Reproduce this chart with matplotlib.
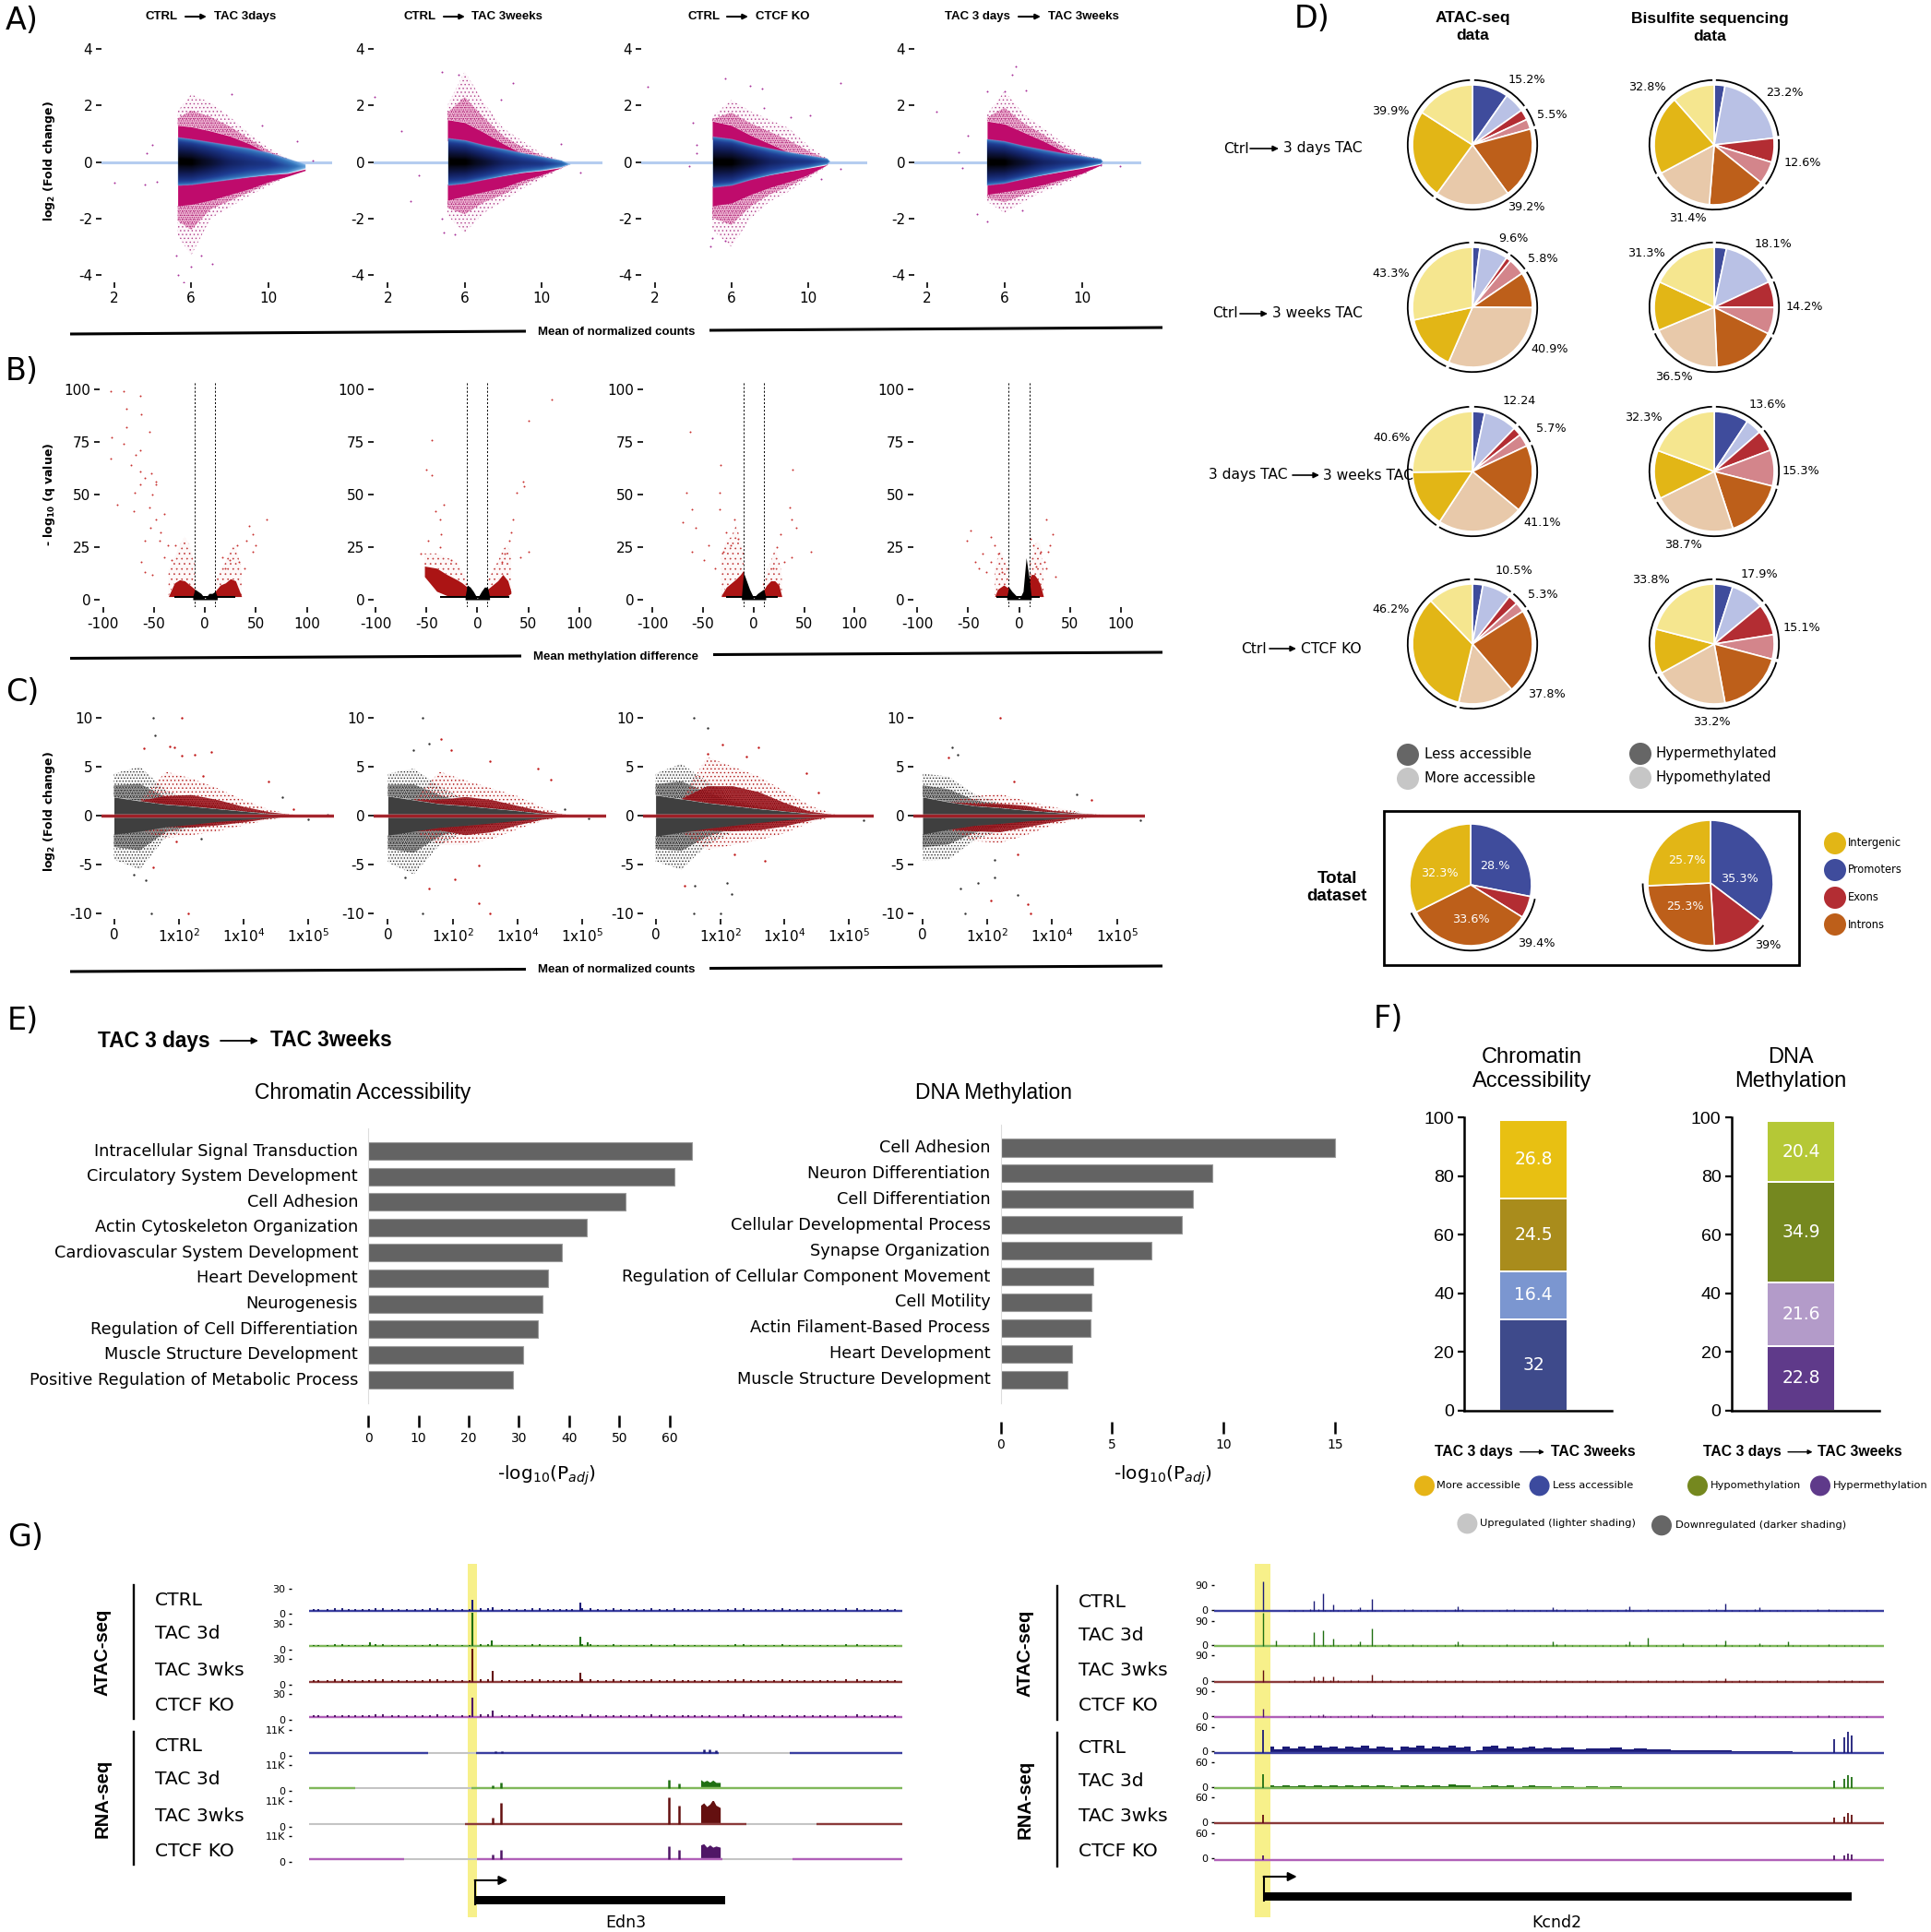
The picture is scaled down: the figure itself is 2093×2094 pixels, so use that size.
import numpy as np
import matplotlib
matplotlib.use('Agg')
import matplotlib.pyplot as plt
from matplotlib.colors import LinearSegmentedColormap
from matplotlib.patches import Arc, Circle, Rectangle
from matplotlib.transforms import ScaledTranslation

W, H = 2093, 2094
plt.rcParams['font.family'] = ['DejaVu Sans']
plt.rcParams['axes.unicode_minus'] = False
plt.rcParams['hatch.linewidth'] = 0.5
plt.rcParams['mathtext.fontset'] = 'dejavusans'

# ---- panel A: envelopes of the MA clouds (log2 FC, read per x position)
a_x_start = [5.3, 5.1, 5.0, 5.1]
a_x_end = [11.9, 11.45, 11.15, 11.1]
a_x_mid = [6, 7, 8, 9, 10, 11]
a_density = [1.0, 1.0, 0.85, 0.66, 0.55, 0.48, 0.3, 0.1]
a_blue_up = [[.78, .72, .62, .52, .42, .28, .08, -.1], [.75, .68, .52, .4, .27, .15, .03, -.1],
             [.8, .72, .55, .42, .3, .2, .1, 0], [.72, .65, .5, .38, .27, .18, .08, 0]]
a_blue_low = [[-.78, -.76, -.68, -.6, -.52, -.45, -.4, -.25], [-.78, -.72, -.6, -.48, -.37, -.3, -.2, -.1],
              [-.85, -.78, -.6, -.45, -.33, -.22, -.1, 0], [-.78, -.72, -.58, -.45, -.33, -.22, -.08, 0]]
a_dense_up = [[1.3, 1.25, 1.1, .92, .65, .3, .08, -.1], [1.5, 1.4, 1.05, .65, .3, .15, .03, -.1],
              [1.45, 1.3, .95, .65, .35, .2, .1, 0], [1.45, 1.35, 1.05, .75, .4, .18, .08, 0]]
a_dense_low = [[-1.55, -1.5, -1.35, -1.15, -.95, -.7, -.5, -.3], [-1.35, -1.2, -1.05, -.9, -.65, -.45, -.2, -.1],
               [-1.55, -1.45, -1.15, -.9, -.7, -.45, -.1, 0], [-1.15, -1.05, -.95, -.8, -.6, -.4, -.1, 0]]
a_sparse_up = [[1.8, 2.4, 2.1, 1.6, 1.0, .5, .12, -.1], [2.0, 3.2, 2.1, 1.2, .75, .3, .06, -.1],
               [1.6, 2.2, 1.8, 1.5, 1.2, .6, .12, 0], [1.7, 2.5, 1.7, 1.2, .7, .3, .1, 0]]
a_sparse_low = [[-2.6, -3.3, -2.0, -1.6, -1.2, -.85, -.5, -.3], [-1.9, -2.5, -1.8, -1.4, -.95, -.6, -.25, -.1],
                [-2.4, -3.0, -2.0, -1.4, -1.05, -.6, -.15, 0], [-1.4, -1.8, -1.4, -1.05, -.8, -.48, -.12, 0]]
a_out_x = [[8.1, 9.65, 11.5, 12.3, 3.7, 4, 2, 3.6, 4.2, 5.6, 5.3, 7.1, 6, 5.2, 6.5],
           [4.8, 5.7, 8.5, 7.9, 1.3, 2.7, 11, 12, 3.6, 3.2, 4.9, 5.5, 4.8],
           [1.6, 5.7, 7, 7.6, 11.7, 4, 4.2, 4.2, 3.8, 10.7, 9.1, 10.1, 4.9, 5.7, 5, 7.7, 11.7],
           [6.6, 6.4, 7.1, 5.1, 6, 2.5, 4.1, 3.6, 5.1, 4.6, 6.9, 11, 12, 3.8]]
a_out_y = [[2.4, 1.3, .73, .05, .33, .6, -.73, -.8, -.7, -4.26, -4, -3.6, -3.7, -3.3, -3.3],
           [3.2, 3.1, 2.8, 2.2, 2.3, 1.1, .63, -.38, -.47, -1.4, -2.5, -2.55, -2],
           [2.65, 2.95, 2.7, 2.6, 2.8, 1.4, .3, .6, -.15, -.6, 1.6, 1.65, -3, -2.8, -2.7, 1.9, -.25],
           [3.4, 3.1, 2.55, 2.5, 2.5, 1.8, .95, .35, -2.1, -1.85, -1.7, -.1, -.15, -.2]]
a_y_ticks = [-4, -2, 0, 2, 4]
a_x_ticks = [2, 6, 10]

# ---- panel B: volcano envelopes (left and right arms) and single points
b_lx = [[-36, -30, -25, -20, -15, -10], [-52, -40, -30, -20, -15, -10],
        [-32, -27, -22, -17, -13, -10], [-24, -21, -18, -15, -12, -10]]
b_l_top = [[1.5, 8, 9.5, 9, 7, 5], [16, 15, 12, 9.5, 8, 6], [2, 6, 8, 10, 12, 14], [1.5, 5, 6, 7, 6, 6]]
b_l_low = [[1.5, 1.5, 1.5, 1.5, 1.5, 1.5], [11, 4, 2, 1.5, 1.5, 1.5],
           [1.5, 1.5, 1.5, 1.5, 1.5, 1.5], [1.5, 1.5, 1.5, 1.5, 1.5, 1.5]]
b_rx = [[10, 15, 20, 25, 30, 36], [10, 15, 20, 25, 30, 33], [9, 13, 17, 21, 25, 28], [10, 12, 15, 18, 21, 24]]
b_r_top = [[4, 7, 8, 10, 9, 1.5], [5, 7, 9, 12, 9, 4], [4, 7, 9, 9, 7, 1.5], [10, 12, 12, 10, 7, 1.5]]
b_r_low = [[1.5, 1.5, 1.5, 1.5, 1.5, 1.5], [1.5, 1.5, 1.5, 1.5, 2, 3],
           [1.5, 1.5, 1.5, 1.5, 1.5, 1.5], [1.5, 1.5, 1.5, 1.5, 1.5, 1.5]]
b_ls_top = [[14, 20, 26, 30, 26, 17], [22, 22, 20, 18, 14, 10], [22, 28, 30, 36, 28, 25], [14, 20, 24, 20, 18, 14]]
b_rs_top = [[9, 14, 18, 24, 26, 14], [9, 14, 18, 24, 26, 22], [10, 14, 18, 24, 20, 12], [16, 20, 25, 28, 26, 16]]
b_floor_l = [-30, -37, -27, -22]
b_floor_r = [30, 31, 24, 20]
b_black_x = [-12, -10, -7, -4, -1, 0, 1, 4, 7, 10, 12]
b_black_top = [[1.5, 5, 4, 3, 1.2, .5, 1.2, 3, 3, 4, 1.5], [1.5, 7, 6, 4, 1.5, .5, 1.5, 4, 6, 6, 1.5],
               [1.5, 13, 9, 5, 2, .5, 1.5, 3, 4, 5, 1.5], [1.5, 6, 4, 2.5, 1, .5, 1, 4, 20, 10, 1.5]]
b_out_x = [[-93, -80, -64, -77, -63, -77, -55, -92, -80, -64, -68, -93, -73, -64, -53, -59, -48, -64, -48, -69, -52,
            -86, -70, -55, -40, -48, -54, -44, -59, -45, -36, -29, -63, -59, -40, -33, -52, 61, 43, 47, 41, 32, 50, 47,
            24, 33, 17, 20, 39],
           [73, 50, -45, -50, -45, 45, 46, 39, -33, -41, -37, -36, -48, 35, 33, 31, 50, 42, -56, -37, -26, 27, 24],
           [-63, -33, 39, -67, -34, -61, -34, 36, -70, -57, 38, 42, 57, 38, -61, -45, -27, -19, 27, 23, -49, -38, -30,
            -23, -15, 30, 19],
           [-48, -51, -28, 27, 33, 11, 29, 36, -43, -39, -24, -20, -28, -17, 21, 14, 25, 17, -32, -36, 30, 27]]
b_out_y = [[99, 99, 97, 91, 88, 82, 80, 77, 74, 71, 69, 67, 64, 61, 60, 58, 56, 55, 55, 51, 50,
            45, 42, 44, 41, 38, 34, 32, 28, 28, 26, 26, 18, 13, 20, 19, 12, 38, 35, 31, 28, 26, 26, 23,
            19, 18, 20, 15, 15],
           [95, 85, 76, 62, 59, 56, 54, 51, 45, 42, 38, 31, 28, 38, 32, 28, 23, 20, 22, 25, 19, 22, 18],
           [80, 64, 62, 51, 51, 43, 43, 44, 37, 34, 38, 34, 23, 20, 23, 26, 32, 38, 31, 25, 19, 15, 23,
            26, 29, 18, 15],
           [33, 28, 30, 38, 31, 29, 23, 11, 18, 15, 26, 22, 18, 13, 23, 26, 18, 16, 13, 22, 26, 15]]
b_y_ticks = [0, 25, 50, 75, 100]
b_x_ticks = [-100, -50, 0, 50, 100]

# ---- panel C: MA envelopes on the tick scale 0..3
c_x = [0, .4, .8, 1.2, 1.6, 2, 2.4, 2.8]
c_core_up = [[1.9, 1.5, 1.15, .95, .7, .45, .2, .03], [2, 1.6, 1.2, 1, .75, .5, .2, .03],
             [2.1, 1.7, 1.3, 1, .7, .45, .2, .03], [1.9, 1.4, 1, .8, .55, .35, .15, .03]]
c_core_low = [[-1.9, -1.6, -1.15, -.9, -.6, -.4, -.2, -.03], [-2, -1.6, -1.2, -1, -.75, -.5, -.2, -.03],
              [-2.1, -1.7, -1.3, -1, -.7, -.45, -.2, -.03], [-1.9, -1.4, -1, -.8, -.55, -.35, -.15, -.03]]
c_black_up = [[4.3, 5, 2.6, 1.5, 1, .6, .3, .05], [4.3, 4.8, 3, 1.6, 1, .6, .3, .05],
              [4.3, 5.3, 3.5, 1.8, 1, .6, .3, .05], [4.3, 4, 2.2, 1.3, .8, .5, .3, .05]]
c_black_low = [[-4.5, -5.5, -2.2, -1.3, -.9, -.6, -.3, -.05], [-4.8, -6, -3, -1.6, -1, -.6, -.3, -.05],
               [-4.7, -5.5, -3, -1.6, -1, -.6, -.3, -.05], [-4.6, -4.5, -2.5, -1.5, -.9, -.5, -.3, -.05]]
c_red_up = [[1.9, 1.5, 2, 2.1, 1.6, .9, .35, .03], [2, 1.6, 1.6, 1.9, 1.6, 1, .4, .03],
            [2.1, 1.7, 3, 3, 2.4, 1.3, .4, .03], [1.9, 1.4, 1.2, 1.2, 1, .5, .2, .03]]
c_red_low = [[-1.9, -1.6, -1.15, -1.2, -1, -.7, -.3, -.03], [-2, -1.6, -1.5, -2, -1.7, -1, -.4, -.03],
             [-2.1, -1.7, -1.5, -1.6, -1.5, -1.1, -.5, -.03], [-1.9, -1.4, -1.6, -1.7, -1.2, -.7, -.25, -.03]]
c_reds_up = [[1.9, 1.5, 4.5, 3.8, 2.8, 1.6, .6, .05], [2, 1.6, 4.5, 3.6, 2.8, 2, .8, .05],
             [2.1, 1.7, 6, 5, 4, 2.5, 1, .1], [1.9, 1.4, 2, 2.2, 1.5, .9, .4, .05]]
c_reds_low = [[-1.9, -1.6, -2.3, -2, -1.6, -1, -.4, -.05], [-2, -1.6, -3, -3, -2.4, -1.4, -.5, -.05],
              [-2.1, -1.7, -3.5, -3, -2.5, -1.8, -.7, -.05], [-1.9, -1.4, -2.6, -2.8, -2, -1, -.4, -.05]]
c_red_x = [[1.04, 1.15, .46, .86, .93, 1.04, 1.25, 1.5, 1.37, 2.38, 2.77, .6, .96],
           [1.57, .82, .98, 1.57, 2.32, 2.52, 1.4, .63, 1.04, 1.4],
           [1.04, .8, 1.6, 1.4, 2.34, 2.52, 1.69, .45, 1.22],
           [1.2, .4, 1.41, 2.6, 1.05, 1.62, 1.66, 1.47]]
c_red_y = [[10, -10, 6.9, 7.1, 7, 6.1, 6.2, 6.5, 4.1, 3.5, .66, -5.3, -2.6],
           [-10, 7.8, 6.7, 5.6, 4.8, 3.7, -5.1, -7.5, -6.5, -9],
           [7.3, 6.3, 7, 6, 4.3, 2.4, -4.6, -7.2, -4],
           [10, 5.9, 3.5, 1.6, -8.7, -9.1, -10, -4]]
c_blk_x = [[.6, .58, .63, .49, .3, 1.34, 2.6, 3.3, 3],
           [.53, .54, .63, .39, .27, 2.73, 3.1],
           [.59, .8, .59, 1, 1.18, 1.1, .6, 3.23],
           [.46, .54, 2.38, 1.11, 1.47, .66, .58, .85, 1.11, 3.36]]
c_blk_y = [[10, -10, 8.2, -6.6, -6, -2.4, 1.9, .1, -.4],
           [10, -10, 7.4, 6.7, -6.3, .66, -.3],
           [10, 9, -10, -10, -8, -6.9, -7.2, -.5],
           [7, 6.2, 2.2, -6.3, -8.1, -10, -7.5, -6.9, -4.5, -.5]]
c_y_ticks = [-10, -5, 0, 5, 10]
c_x_ticks = [0, 1, 2, 3]
c_x_labels = ['0', r'1x10$^2$', r'1x10$^4$', r'1x10$^5$']

# ---- panel D: pies, percent clockwise from the top
# promoters dark/light, exons dark/light, introns dark/light, intergenic dark/light
pie_colors = ['#3f4c9c', '#b9c1e5', '#b32d33', '#d3858b', '#bd5f1a', '#e8c9aa', '#e2b616', '#f5e68f']
atac_pies = [[9.7, 5.5, 2.8, 2.7, 19.2, 20, 24, 15.9],
             [2, 7.6, 1.3, 4.5, 9.6, 31.3, 15, 28.3],
             [3.3, 8.9, 2.3, 3.4, 18, 23.1, 15.5, 25.1],
             [2.8, 7.7, 2.6, 2.7, 22.8, 15, 34, 12.2]]
bis_pies = [[2.9, 20.3, 6.5, 6.1, 15.5, 15.9, 21.3, 11.5],
            [3.3, 14.8, 7, 7.2, 17, 19.5, 13.2, 18.1],
            [9.3, 4.3, 5.6, 9.7, 16, 22.7, 13, 19.3],
            [5, 9, 8.5, 6.6, 18, 19.9, 12, 21]]
atac_labels = [['15.2%', '5.5%', '39.2%', '39.9%'], ['9.6%', '5.8%', '40.9%', '43.3%'],
               ['12.24', '5.7%', '41.1%', '40.6%'], ['10.5%', '5.3%', '37.8%', '46.2%']]
bis_labels = [['23.2%', '12.6%', '31.4%', '32.8%'], ['18.1%', '14.2%', '36.5%', '31.3%'],
              ['13.6%', '15.3%', '38.7%', '32.3%'], ['17.9%', '15.1%', '33.2%', '33.8%']]
total_atac = [28, 5.8, 33.6, 32.3]
total_bis = [35.3, 13.7, 25.3, 25.7]
total_colors = ['#3f4c9c', '#b32d33', '#bd5f1a', '#e2b616']

# ---- panel E
e_terms_left = ['Intracellular Signal Transduction', 'Circulatory System Development', 'Cell Adhesion',
                'Actin Cytoskeleton Organization', 'Cardiovascular System Development', 'Heart Development',
                'Neurogenesis', 'Regulation of Cell Differentiation', 'Muscle Structure Development',
                'Positive Regulation of Metabolic Process']
e_vals_left = [64.5, 61, 51.2, 43.5, 38.5, 35.9, 34.7, 33.8, 30.9, 28.8]
e_terms_right = ['Cell Adhesion', 'Neuron Differentiation', 'Cell Differentiation', 'Cellular Developmental Process',
                 'Synapse Organization', 'Regulation of Cellular Component Movement', 'Cell Motility',
                 'Actin Filament-Based Process', 'Heart Development', 'Muscle Structure Development']
e_vals_right = [15, 9.5, 8.63, 8.12, 6.76, 4.18, 4.06, 4.02, 3.2, 3.0]

# ---- panel F
f_left_heights = [31, 16.5, 24.8, 26.9]
f_left_labels = ['32', '16.4', '24.5', '26.8']
f_left_colors = ['#3e4a8b', '#7b96d0', '#a98c1c', '#e8c012']
f_right_heights = [22, 21.7, 34.3, 20.8]
f_right_labels = ['22.8', '21.6', '34.9', '20.4']
f_right_colors = ['#5f3a8a', '#b39bc9', '#75881f', '#b5c836']

# ---- panel G: peaks along the track, x in track units
track_names = ['CTRL', 'TAC 3d', 'TAC 3wks', 'CTCF KO']
track_dark = ['#1c1c78', '#1f6f12', '#641010', '#4f1666']
track_light = ['#3a3fa0', '#7fb85a', '#8b3a3a', '#b060b8']
edn3_atac_pos = [[772, 805, 949], [605, 772, 803, 949, 960], [772, 805, 949], [772, 805]]
edn3_atac_h = [[12.6, 4.5, 10], [4.5, 39, 7, 11.5, 5], [38, 12.6, 10.8], [22, 7]]
bump_pos = [520, 535, 560, 580, 603, 625, 640, 665, 690, 715, 740, 755, 785, 820, 845, 870, 895, 915, 935, 965, 990,
            1015, 1040, 1065, 1090, 1115, 1135, 1160, 1190, 1215, 1240, 1265, 1290, 1315, 1340, 1365, 1400, 1425, 1450]
bump_h = [2, 1.5, 2.5, 2, 1.5, 3, 1.5, 2, 1.5, 3, 2, 2, 3, 2, 1.5, 3, 2, 1.5, 2, 3, 1.5, 2, 1.5, 3, 1.5, 2, 1.5, 2, 1.5,
          3, 1.5, 2, 1.5, 2, 1.5, 1.5, 3, 2, 1.5]
bump2_pos = [512, 547, 570, 592, 614, 652, 678, 702, 728, 768, 797, 832, 858, 882, 905, 925, 952, 977, 1002, 1028, 1052,
             1078, 1102, 1125, 1148, 1175, 1202, 1228, 1252, 1278, 1302, 1328, 1352, 1382, 1412, 1438, 1462]
bump2_h = [1.5, 2.5, 1.5, 2, 3, 1.5, 2, 2.5, 1.5, 2, 3, 1.5, 2, 2.5, 1.5, 2, 3, 1.5, 2.5, 1.5, 2, 1.5, 2.5, 1.5, 2, 1.5,
           2.5, 1.5, 2, 2.5, 1.5, 2, 1.5, 2.5, 1.5, 2, 1.5]
edn3_rna_pos = [[810, 820, 1150, 1160, 1170], [805, 818, 1093, 1110], [805, 818, 1093, 1110], [805, 818, 1093, 1110]]
edn3_rna_h = [[.6, .6, 1.3, 1.5, 1.2], [1.3, 2.4, 3.7, 2], [2.6, 8.9, 11.5, 7.9], [2, 3.9, 5.5, 3.9]]
edn3_block_pos = [1145, 1150, 1155, 1160, 1165, 1170, 1177]
edn3_block_h = [[0, 0, 0, 0, 0, 0, 0], [3.7, 2.8, 3.4, 2.6, 3.5, 2.5, 2.5], [8, 9, 7.5, 8.5, 10.5, 8, 7],
                [6, 6.5, 5, 6, 5, 5.5, 5]]
edn3_rna_colored = [[(505, 700), (778, 1175), (1290, 1475)], [(505, 580), (770, 1180), (1180, 1475)],
                    [(760, 1220), (1335, 1475)], [(505, 660), (780, 1180), (1295, 1475)]]
kcnd2_atac_pos = [[469, 552, 568, 585, 628, 648, 790, 945, 1071, 1230, 1286],
                  [469, 490, 552, 568, 585, 628, 648, 675, 790, 945, 1071, 1102, 1160, 1230, 1286, 1332],
                  [469, 552, 568, 585, 648, 1230], [469, 568, 648]]
kcnd2_atac_h = [[107, 36, 65, 22, 13, 43, 17, 13, 16, 25, 13],
                [121, 22, 52, 58, 28, 17, 65, 9, 19, 17, 17, 31, 11, 22, 11, 17],
                [42, 19, 20, 18, 25, 13], [28, 11, 11]]
kcnd2_end_pos = [469, 1408, 1425, 1432, 1437]
kcnd2_end_h = [[56, 34, 38, 51, 41], [34, 17, 22, 31, 27], [20, 15, 17, 26, 22], [11, 10, 10, 15, 13]]
kcnd2_body_pos = [481, 494, 507, 520, 533, 546, 559, 572, 585, 598, 611, 624, 637, 650, 663, 676, 689, 702, 715, 728,
                  741, 754, 767, 780, 793, 806, 815, 824, 837, 850, 863, 876, 889, 902, 911, 924, 937, 950, 970, 990,
                  1010, 1030, 1050, 1070, 1090, 1110, 1130, 1150, 1170, 1190, 1210, 1230, 1250, 1270, 1290, 1310, 1330,
                  1350, 1370, 1400]
kcnd2_body_h = [[14, 9, 15, 11, 16, 10, 17, 12, 15, 10, 16, 13, 18, 11, 16, 12, 7, 15, 12, 17,
                 11, 16, 12, 17, 13, 15, 4, 6, 14, 17, 11, 15, 10, 12, 16, 10, 13, 11, 12, 9,
                 11, 10, 12, 8, 10, 8, 9, 7, 7, 6, 6, 5, 4, 4, 3.5, 3, 3, 2, 2, 1.5],
                [6, 4, 6, 4, 7, 4, 6, 5, 6, 4, 6, 5, 7, 4, 6, 5, 3, 6, 5, 7,
                 5, 7, 5, 8, 6, 6, 1, 3, 5, 6, 4, 6, 3, 4, 7, 4, 5, 3, 4, 3,
                 3.5, 3, 4, 3, 3, 2.5, 3, 2, 2, 2, 2, 1.5, 1.5, 1, 1, 1, 1, 1, 1, .5],
                [1.5, 1, 2, 1, 2, 1, 2, 1, 2, 1, 2, 1, 1.5, 1, 2, 1, .5, 1, 1, 1,
                 1, 1, 1.5, 1, 1.5, 1, .5, .5, 1, 1, 1, 1, 1, 1, 1, 1, 1, 1, 1, 1,
                 .8, .8, .8, .8, .8, .5, .5, .5, .5, .5, .5, .5, .3, .3, .3, .3, .3, .3, .3, .3],
                [2, 1.5, 2, 1.5, 2, 1.5, 2, 1.5, 2.5, 2, 2.5, 1, 2, 1.5, 2, 1.5, 1, 1.5, 1.5, 1,
                 1.5, 1, 2, 1.5, 1.5, 1.5, .5, .5, 1, 1.5, 1, 1, 1, 1, 1, 1, 1, 1, 1, 1,
                 .8, .8, .8, .5, .5, .5, .5, .3, .3, .3, .3, .3, .3, .3, .3, .3, .3, .3, .3, .3]]

fig = plt.figure(figsize=(W / 100, H / 100), dpi=100, facecolor='white')


def px_axes(left, top, right, bottom, zorder=1):
    ax = fig.add_axes([left / W, 1 - bottom / H, (right - left) / W, (bottom - top) / H], zorder=zorder)
    ax.patch.set_alpha(0)
    return ax


def scaled_axes(box, x_ref, y_ref):
    # x_ref, y_ref = ((pixel, value), (pixel, value)) so limits follow the read ticks
    left, top, right, bottom = box
    ax = px_axes(left, top, right, bottom)
    (p0, v0), (p1, v1) = x_ref
    k = (v1 - v0) / (p1 - p0)
    ax.set_xlim(v0 + (left - p0) * k, v0 + (right - p0) * k)
    (p0, v0), (p1, v1) = y_ref
    k = (v1 - v0) / (p1 - p0)
    ax.set_ylim(v0 + (bottom - p0) * k, v0 + (top - p0) * k)
    for s in ax.spines.values():
        s.set_visible(False)
    ax.tick_params(length=4, width=1.2, pad=3, labelsize=11)
    return ax


def grain(ax, x, a, b, color, hatch, tint, zorder=2):
    # grainy scatter zones are drawn as a dotted fill between two read envelopes
    ax.fill_between(x, a, b, facecolor=tint, edgecolor=color, hatch=hatch, linewidth=0, zorder=zorder)


# overlay in pixel coordinates for texts and section rules, backdrop for yellow bands
bg = px_axes(0, 0, W, H, zorder=0)
bg.set_xlim(0, W)
bg.set_ylim(H, 0)
bg.axis('off')
ov = px_axes(0, 0, W, H, zorder=5)
ov.set_xlim(0, W)
ov.set_ylim(H, 0)
ov.axis('off')

SANS = 'Liberation Sans'


def txt(x, y, s, size=10, ha='left', va='center', **kw):
    ov.text(x, y, s, fontsize=size, ha=ha, va=va, **kw)


def arrow(x0, x1, y, lw=1.2, ms=9):
    ov.annotate('', xy=(x1, y), xytext=(x0, y),
                arrowprops=dict(arrowstyle='-|>', color='black', lw=lw, mutation_scale=ms, shrinkA=0, shrinkB=0))


def rule(x0, y0, x1, y1, lw=2.2):
    ov.plot([x0, x1], [y0, y1], color='black', lw=lw, solid_capstyle='butt')


def dot(x, y, color, r=11):
    ov.add_patch(Circle((x, y), r, facecolor=color, edgecolor='none'))


for s, x, y in [('A)', 6, 22), ('B)', 6, 403), ('C)', 6, 750), ('D)', 1403, 21), ('E)', 8, 1106), ('F)', 1489, 1105),
                ('G)', 8, 1667)]:
    txt(x, y, s, size=24)

# titles of the first row
for a, a0, a1, b, xa, xb in [('CTRL', 201, 224, 'TAC 3days', 157, 232), ('CTRL', 481, 504, 'TAC 3weeks', 437, 511),
                             ('CTRL', 788, 811, 'CTCF KO', 746, 819), ('TAC 3 days', 1104, 1128, 'TAC 3weeks', 1024, 1136)]:
    txt(xa, 18, a, size=9.5, family=SANS, weight='bold')
    arrow(a0, a1, 18, lw=1.5, ms=8)
    txt(xb, 18, b, size=9.5, family=SANS, weight='bold')

# section rules with their axis names
for y_mid, ya, yb, yc, yd, name, x0, x1 in [(360, 362, 359, 358, 355, 'Mean of normalized counts', 570, 769),
                                            (712, 713.5, 711, 709.5, 707, 'Mean methylation difference', 565, 773),
                                            (1051, 1053, 1050.5, 1049.5, 1047, 'Mean of normalized counts', 570, 769)]:
    rule(76, ya, x0, yb)
    rule(x1, yc, 1260, yd)
    txt(668, y_mid, name, size=9.5, ha='center', family=SANS, weight='bold')

# ---- A
a_cmap = LinearSegmentedColormap.from_list('a', [(0, (.5, .72, .93, 0)), (.06, (.38, .64, .88, .85)),
                                                 (.2, (.2, .46, .74, 1)), (.42, (.12, .24, .58, 1)),
                                                 (.7, (.07, .12, .36, 1)), (.92, (.03, .04, .12, 1)),
                                                 (1, (0, 0, 0, 1))])
a_boxes = [(110, 360, 123.5, 291), (405, 653, 420.4, 587), (695, 940, 709.8, 875.6), (991, 1237, 1005, 1172.5)]
for i, (l, r, p2, p10) in enumerate(a_boxes):
    ax = scaled_axes((l, 40, r, 306), ((p2, 2), (p10, 10)), ((175, 0), (53, 4)))
    xs = [a_x_start[i]] + a_x_mid + [a_x_end[i]]
    ax.axhline(0, color='#b5cdf0', lw=2.2, zorder=1)
    up_mid = (np.array(a_dense_up[i]) + np.array(a_sparse_up[i])) / 2
    low_mid = (np.array(a_dense_low[i]) + np.array(a_sparse_low[i])) / 2
    grain(ax, xs, a_dense_up[i], a_sparse_up[i], '#b0408c', '....', (.93, .6, .78, .08))
    grain(ax, xs, a_sparse_low[i], a_dense_low[i], '#b0408c', '....', (.93, .6, .78, .08))
    grain(ax, xs, a_dense_up[i], up_mid, '#a8106e', '.......', (.85, .35, .6, .4))
    grain(ax, xs, low_mid, a_dense_low[i], '#a8106e', '.......', (.85, .35, .6, .4))
    ax.fill_between(xs, a_blue_up[i], a_dense_up[i], color='#bf0b6c', linewidth=0, zorder=3)
    ax.fill_between(xs, a_dense_low[i], a_blue_low[i], color='#bf0b6c', linewidth=0, zorder=3)
    ax.scatter(a_out_x[i], a_out_y[i], s=2, color='#a8309a', linewidths=0, zorder=3)
    gx = np.linspace(4.6, 12.4, 320)
    gy = np.linspace(-1.3, 1.3, 220)
    up = np.interp(gx, xs, a_blue_up[i], left=np.nan, right=np.nan)
    low = np.interp(gx, xs, a_blue_low[i], left=np.nan, right=np.nan)
    dens = np.interp(gx, xs, a_density, left=0, right=0)
    mid = (up + low) / 2
    half = np.maximum((up - low) / 2, .02)
    u = np.abs(gy[:, None] - mid[None, :]) / half[None, :]
    z = np.nan_to_num(np.clip(1.1 - u, 0, 1)) ** .55 * dens[None, :]
    xl = ax.get_xlim()
    ax.imshow(z, extent=(gx[0], gx[-1], gy[0], gy[-1]), origin='lower', aspect='auto', cmap=a_cmap, vmin=0, vmax=1,
              interpolation='bilinear', zorder=4)
    ax.set_xlim(xl)
    ax.set_xticks(a_x_ticks)
    ax.set_yticks(a_y_ticks)
    ax.set_xticklabels([str(v) for v in a_x_ticks])
    ax.set_yticklabels([str(v) for v in a_y_ticks])
    ax.set_ylim(-4.26, 4.43)
txt(54, 175, r'log$_{\mathbf{2}}$ (Fold change)', size=9, ha='center', rotation=90, weight='bold')

# ---- B
b_boxes = [(108, 362, 222.2, 332.5), (405, 656, 517.4, 627.7), (697, 955, 816.8, 926.2), (990, 1245, 1104.5, 1214.8)]
for i, (l, r, p0, p100) in enumerate(b_boxes):
    ax = scaled_axes((l, 413, r, 658), ((p0, 0), (p100, 100)), ((650, 0), (422, 100)))
    grain(ax, b_lx[i], b_l_top[i], b_ls_top[i], '#c23a3a', '...', (.9, .55, .55, .06))
    grain(ax, b_rx[i], b_r_top[i], b_rs_top[i], '#c23a3a', '...', (.9, .55, .55, .06))
    ax.fill_between(b_lx[i], b_l_low[i], b_l_top[i], color='#ab1414', linewidth=0, zorder=3)
    ax.fill_between(b_rx[i], b_r_low[i], b_r_top[i], color='#ab1414', linewidth=0, zorder=3)
    ax.scatter(b_out_x[i], b_out_y[i], s=2, color='#c8302e', linewidths=0, zorder=3)
    ax.fill_between([b_floor_l[i], b_floor_r[i]], .7, 1.6, color='black', linewidth=0, zorder=4)
    ax.fill_between(b_black_x, 0, b_black_top[i], color='black', linewidth=0, zorder=4)
    ax.axvline(-10, color='black', lw=.7, ls=(0, (2.2, 2)), zorder=5)
    ax.axvline(10, color='black', lw=.7, ls=(0, (2.2, 2)), zorder=5)
    ax.set_xticks(b_x_ticks)
    ax.set_yticks(b_y_ticks)
    ax.set_xticklabels([str(v) for v in b_x_ticks])
    ax.set_yticklabels([str(v) for v in b_y_ticks])
    ax.tick_params(axis='x', pad=4)
txt(54, 536, r'- log$_{\mathbf{10}}$ (q value)', size=9, ha='center', rotation=90, weight='bold')

# ---- C
c_boxes = [(110, 362, 123.5, 334.2), (405, 657.5, 420.4, 631), (697, 947, 710.6, 920.4), (990, 1241, 1000, 1210.6)]
for i, (l, r, p0, p3) in enumerate(c_boxes):
    ax = scaled_axes((l, 770, r, 996), ((p0, 0), (p3, 3)), ((884, 0), (778, 10)))
    up_mid = (np.array(c_core_up[i]) + np.array(c_black_up[i])) / 2
    low_mid = (np.array(c_core_low[i]) + np.array(c_black_low[i])) / 2
    grain(ax, c_x, c_core_up[i], c_black_up[i], '#1c1c1c', '.....', (.3, .3, .3, .06), zorder=1)
    grain(ax, c_x, c_black_low[i], c_core_low[i], '#1c1c1c', '.....', (.3, .3, .3, .06), zorder=1)
    grain(ax, c_x, c_core_up[i], up_mid, '#1c1c1c', '........', (.3, .3, .3, .45), zorder=1)
    grain(ax, c_x, low_mid, c_core_low[i], '#1c1c1c', '........', (.3, .3, .3, .45), zorder=1)
    grain(ax, c_x, c_core_up[i], c_reds_up[i], '#b01414', '....', (.9, .5, .5, .06), zorder=2)
    grain(ax, c_x, c_reds_low[i], c_core_low[i], '#b01414', '....', (.9, .5, .5, .06), zorder=2)
    grain(ax, c_x, c_core_up[i], c_red_up[i], '#6e0a10', '........', (.64, .07, .1, .85), zorder=3)
    grain(ax, c_x, c_red_low[i], c_core_low[i], '#6e0a10', '........', (.64, .07, .1, .85), zorder=3)
    ax.fill_between(c_x, c_core_low[i], c_core_up[i], color='#3f3f3f', linewidth=0, zorder=4)
    ax.scatter(c_red_x[i], c_red_y[i], s=3, color='#c01818', linewidths=0, zorder=5)
    ax.scatter(c_blk_x[i], c_blk_y[i], s=3, color='#333333', linewidths=0, zorder=5)
    ax.axhline(0, color='#e08a90', lw=3.6, alpha=.4, zorder=5)
    ax.axhline(0, color='#a01c24', lw=2, zorder=6)
    ax.set_xticks(c_x_ticks)
    ax.set_xticklabels(c_x_labels)
    ax.set_yticks(c_y_ticks)
    ax.set_yticklabels([str(v) for v in c_y_ticks])
txt(54, 880, r'log$_{\mathbf{2}}$ (Fold change)', size=9, ha='center', rotation=90, weight='bold')


# ---- D
def draw_pie(cx, cy, r, values, colors, groups, rr=1.08):
    half = r * 1.3
    ax = px_axes(cx - half, cy - half, cx + half, cy + half, zorder=2)
    ax.pie(values, colors=colors, startangle=90, counterclock=False, radius=1,
           wedgeprops=dict(edgecolor='white', linewidth=1.2))
    ax.set_xlim(-1.3, 1.3)
    ax.set_ylim(-1.3, 1.3)
    for start, end in groups:
        ax.add_patch(Arc((0, 0), 2 * rr, 2 * rr, theta1=90 - end * 3.6 + 1.5, theta2=90 - start * 3.6 - 1.5,
                         color='black', lw=1.3))


pie_rows = [157, 333, 511, 698]
atac_lab_xy = [[(1655, 87), (1682, 124), (1654, 225), (1507, 121)], [(1640, 258), (1672, 280), (1680, 379), (1508, 296)],
               [(1647, 435), (1681, 465), (1672, 566), (1509, 474)], [(1641, 618), (1672, 644), (1676, 752), (1508, 661)]]
bis_lab_xy = [[(1934, 100), (1954, 176), (1829, 236), (1785, 95)], [(1922, 265), (1956, 333), (1814, 408), (1784, 274)],
              [(1916, 438), (1952, 510), (1824, 590), (1781, 452)], [(1907, 622), (1953, 680), (1855, 782), (1789, 629)]]
for i, cy in enumerate(pie_rows):
    for vals, cx, labs, xy in [(atac_pies[i], 1596, atac_labels[i], atac_lab_xy[i]),
                               (bis_pies[i], 1858, bis_labels[i], bis_lab_xy[i])]:
        cum = np.cumsum([0] + vals)
        draw_pie(cx, cy, 65, vals, pie_colors, [(cum[j], cum[j + 2]) for j in range(0, 8, 2)])
        for s, (x, y) in zip(labs, xy):
            txt(x, y, s, size=9.2, ha='center')

txt(1596, 29, 'ATAC-seq\ndata', size=12.5, ha='center', family=SANS, weight='bold', linespacing=1.3)
txt(1853, 30, 'Bisulfite sequencing\ndata', size=12.5, ha='center', family=SANS, weight='bold', linespacing=1.3)
for a, xa, a0, a1, b, xb, y in [('Ctrl', 1326, 1355, 1386, '3 days TAC', 1391, 161),
                                ('Ctrl', 1314, 1344, 1374, '3 weeks TAC', 1379, 340),
                                ('3 days TAC', 1310, 1401, 1430, '3 weeks TAC', 1434, 515),
                                ('Ctrl', 1345, 1376, 1405, 'CTCF KO', 1410, 703)]:
    txt(xa, y, a, size=11.2)
    arrow(a0, a1, y, lw=1.2, ms=9)
    txt(xb, y, b, size=11.2)

for x, tx, s, y, c in [(1526, 1544, 'Less accessible', 818, '#666666'), (1526, 1544, 'More accessible', 844, '#c6c6c6'),
                       (1778, 1795, 'Hypermethylated', 817, '#666666'), (1778, 1795, 'Hypomethylated', 843, '#c6c6c6')]:
    dot(x, y, c, r=12)
    txt(tx, y, s, size=10.8)

ov.add_patch(Rectangle((1500, 879), 450, 167, fill=False, edgecolor='black', lw=2))
txt(1449, 962, 'Total\ndataset', size=13.5, ha='center', family=SANS, weight='bold')
draw_pie(1594, 959, 66, total_atac, total_colors, [(28, 28 + 5.8 + 33.6 + 1)])
draw_pie(1854, 957, 68, total_bis, total_colors, [(35.3, 35.3 + 13.7 + 25.3 + 1)])
for x, y, s, c in [(1620, 938, '28.%', 'white'), (1560, 947, '32.3%', 'white'), (1594, 997, '33.6%', 'white'),
                   (1665, 1023, '39.4%', 'black'), (1828, 933, '25.7%', 'white'), (1885, 952, '35.3%', 'white'),
                   (1826, 983, '25.3%', 'white'), (1916, 1025, '39%', 'black')]:
    txt(x, y, s, size=9.2, ha='center', color=c, zorder=10)
for y, s, c in [(914, 'Intergenic', '#e2b616'), (943, 'Promoters', '#3f4c9c'), (973, 'Exons', '#b32d33'),
                (1002, 'Introns', '#bd5f1a')]:
    dot(1989, y, c, r=12)
    txt(2003, y, s, size=8.3)

# ---- E
txt(105.7, 1128, 'TAC 3 days', size=16.3, family=SANS, weight='bold')
arrow(239, 280, 1128, lw=1.3, ms=10)
txt(292.6, 1128, 'TAC 3weeks', size=16.3, family=SANS, weight='bold')
txt(392.7, 1184, 'Chromatin Accessibility', size=16.4, ha='center', family=SANS)
txt(1077, 1184, 'DNA Methylation', size=16.4, ha='center', family=SANS)


def go_bars(terms, vals, x0, per_unit, right, y_first, y_last, ticks, tick_out):
    step = (y_last - y_first) / 9
    top, bottom = y_first - .9 * step, y_last + .9 * step
    ax = px_axes(x0, top, right, bottom)
    ax.barh(range(10), vals, height=.69, color='#636363', edgecolor='#9a9a9a', linewidth=.8)
    ax.set_xlim(0, (right - x0) / per_unit)
    ax.set_ylim(9.9, -.9)
    ax.set_yticks(range(10))
    ax.set_yticklabels(terms, fontsize=12.8)
    ax.tick_params(axis='y', length=0, pad=8)
    # term labels sit a little above the bar centres
    lift = ScaledTranslation(0, 1.5 / 72, fig.dpi_scale_trans)
    for lab in ax.get_yticklabels():
        lab.set_transform(lab.get_transform() + lift)
    ax.set_xticks(ticks)
    ax.set_xticklabels([str(t) for t in ticks], fontsize=12.5)
    ax.tick_params(axis='x', length=9, width=1.8, pad=4)
    for k in ('top', 'right'):
        ax.spines[k].set_visible(False)
    ax.spines['left'].set_color('#dddddd')
    ax.spines['bottom'].set_visible(False)
    ax.spines['bottom'].set_position(('outward', tick_out))


go_bars(e_terms_left, e_vals_left, 399.2, 5.44, 755, 1247.7, 1495.8, [0, 10, 20, 30, 40, 50, 60], 9.5)
go_bars(e_terms_right, e_vals_right, 1084.5, 24.16, 1452, 1243.9, 1495.4, [0, 5, 10, 15], 15)
for x in (592, 1260):
    txt(x, 1599, r'-log$_{10}$(P$_{adj}$)', size=14.5, ha='center')


# ---- F
def stacked(left_px, right_px, center_px, heights, labels, colors):
    ax = px_axes(left_px, 1211.3, right_px, 1528.5)
    ax.set_xlim(left_px - center_px, right_px - center_px)
    ax.set_ylim(0, 100)
    bottom = 0
    for h, s, c in zip(heights, labels, colors):
        ax.bar(0, h, width=74, bottom=bottom, color=c, edgecolor='white', linewidth=1.4)
        ax.text(0, bottom + h / 2, s, color='white', fontsize=13.5, ha='center', va='center')
        bottom += h
    ax.set_xticks([])
    ax.set_yticks(range(0, 101, 20))
    ax.set_yticklabels([str(v) for v in range(0, 101, 20)], family=SANS, fontsize=14)
    ax.tick_params(axis='y', length=5, width=1.6, pad=3)
    for k in ('top', 'right'):
        ax.spines[k].set_visible(False)
    for k in ('left', 'bottom'):
        ax.spines[k].set_linewidth(1.8)


stacked(1587, 1747, 1662, f_left_heights, f_left_labels, f_left_colors)
stacked(1876.5, 2037, 1952, f_right_heights, f_right_labels, f_right_colors)
txt(1660.7, 1159, 'Chromatin\nAccessibility', size=17, ha='center', family=SANS, linespacing=1.25)
txt(1941, 1159, 'DNA\nMethylation', size=17, ha='center', family=SANS, linespacing=1.25)
for xa, a0, a1, xb in [(1555.4, 1647.6, 1674, 1680.6), (1845.5, 1938, 1964.6, 1970)]:
    txt(xa, 1573.7, 'TAC 3 days', size=11.3, family=SANS, weight='bold')
    arrow(a0, a1, 1573.7, lw=1, ms=7)
    txt(xb, 1573.7, 'TAC 3weeks', size=11.3, family=SANS, weight='bold')
for x, tx, y, s, c in [(1544, 1557.4, 1610.4, 'More accessible', '#e6b417'), (1668.6, 1682.6, 1610.4, 'Less accessible', '#3c4a9e'),
                       (1840, 1854, 1610.4, 'Hypomethylation', '#75881f'), (1973, 1986.5, 1610.4, 'Hypermethylation', '#5f3a8a'),
                       (1590.4, 1604.3, 1651.4, 'Upregulated (lighter shading)', '#c6c6c6'),
                       (1801, 1815.7, 1653.3, 'Downregulated (darker shading)', '#666666')]:
    dot(x, y, c, r=11)
    txt(tx, y, s, size=8.2)


# ---- G
def track(left, right, x_lim, tick_y, zero_y, label, base, pos, h, color, light, colored=(), outward=0, lw=1.3):
    top_val = label[0]
    ax = px_axes(left, tick_y, right, zero_y, zorder=3)
    ax.set_xlim(*x_lim)
    ax.set_ylim(0, top_val)
    for s in ax.spines.values():
        s.set_visible(False)
    ax.spines['left'].set_position(('outward', outward))
    ax.set_xticks([])
    ax.set_yticks([0, top_val])
    ax.set_yticklabels(['0', label[1]], fontsize=8)
    ax.tick_params(axis='y', length=2.5, width=1, pad=2)
    ax.hlines(base, x_lim[0], x_lim[1], color='#c4c4c4', lw=1.5, clip_on=False)
    for a, b in colored:
        ax.hlines(base, a, b, color=light, lw=1.7, clip_on=False)
    ax.vlines(pos, base, np.array(h) + base, color=color, lw=lw, clip_on=False)
    return ax


ticks_left = [(1721.7, 1749), (1760, 1787.7), (1798, 1826), (1836, 1864.3), (1874.7, 1902.7), (1913.3, 1941.3),
              (1952, 1980), (1990, 2017.7)]
ticks_right = [(1718.3, 1745), (1756.7, 1783.3), (1794.3, 1821.7), (1832.7, 1860), (1871.7, 1898.3), (1910, 1936.7),
               (1948.3, 1975), (1986.7, 2014.3)]

for i in range(4):
    t, z = ticks_left[i]
    ax = track(335, 978.3, (505, 1475), t, z, (30, '30'), 3.6, edn3_atac_pos[i], edn3_atac_h[i], track_dark[i], track_light[i],
               [(505, 1475)], outward=14, lw=1.5)
    ax.vlines(bump_pos, 3.6, 3.6 + np.array(bump_h), color=track_dark[i], lw=1.4, clip_on=False)
    ax.vlines(bump2_pos, 3.6, 3.6 + np.array(bump2_h), color=track_dark[i], lw=1.4, clip_on=False)
    t, z = ticks_left[i + 4]
    ax = track(335, 978.3, (505, 1475), t, z, (11, '11K'), 1.2, edn3_rna_pos[i], edn3_rna_h[i], track_dark[i], track_light[i],
               edn3_rna_colored[i], outward=14, lw=1.8)
    ax.fill_between(edn3_block_pos, 1.2, 1.2 + np.array(edn3_block_h[i]), color=track_dark[i], linewidth=0)

    t, z = ticks_right[i]
    ax = track(1315.6, 2041.6, (388, 1490), t, z, (90, '90'), -3, kcnd2_atac_pos[i], kcnd2_atac_h[i], track_dark[i], track_light[i],
               [(388, 1490)], outward=0, lw=1)
    ax.vlines(bump_pos, -3, -3 + np.array(bump_h) * 2, color=track_dark[i], lw=.9, clip_on=False)
    ax.vlines(bump2_pos, -3, -3 + np.array(bump2_h) * 2, color=track_dark[i], lw=.9, clip_on=False)
    t, z = ticks_right[i + 4]
    ax = track(1315.6, 2041.6, (388, 1490), t, z, (60, '60'), -3, kcnd2_end_pos, kcnd2_end_h[i], track_dark[i], track_light[i],
               [(388, 1490)], outward=0, lw=1.3)
    ax.fill_between(kcnd2_body_pos, -3, np.array(kcnd2_body_h[i]) - 3, step='mid', color=track_dark[i], linewidth=0,
                    clip_on=False)

row_y_left = [1734, 1770, 1810, 1848, 1893, 1928, 1968, 2006]
row_y_right = [1736, 1772, 1811, 1849, 1894, 1930, 1969, 2007]
for k in range(8):
    txt(167.8, row_y_left[k], track_names[k % 4], size=14.6)
    txt(1168.7, row_y_right[k], track_names[k % 4], size=14.6)
for x_rule, x_name, ys in [(144.6, 111.4, (1718, 1863, 1877, 2021)), (1145.6, 1111.4, (1719, 1864, 1878, 2023))]:
    ov.plot([x_rule, x_rule], ys[:2], color='black', lw=1.7)
    ov.plot([x_rule, x_rule], ys[2:], color='black', lw=1.7)
    txt(x_name, (ys[0] + ys[1]) / 2, 'ATAC-seq', size=14.5, ha='center', rotation=90, family=SANS, weight='bold')
    txt(x_name, (ys[2] + ys[3]) / 2, 'RNA-seq', size=14.5, ha='center', rotation=90, family=SANS, weight='bold')

bg.add_patch(Rectangle((506.7, 1695), 10.6, 383, color='#f7f08a', linewidth=0))
bg.add_patch(Rectangle((1359.7, 1695), 17.2, 383, color='#f7f08a', linewidth=0))
for x0, x1, y_low, y_top, end_arrow, name, nx in [(514.7, 786, 2064, 2038, 550.5, 'Edn3', 678.5),
                                                  (1369.6, 2007.3, 2060, 2034, 1405.8, 'Kcnd2', 1687.8)]:
    ov.add_patch(Rectangle((x0, y_low - 9), x1 - x0, 9, color='black', linewidth=0))
    ov.plot([x0, x0], [y_low, y_top], color='black', lw=1.5)
    arrow(x0, end_arrow, y_top, lw=1.5, ms=14)
    txt(nx, 2084, name, size=12.5, ha='center')

fig.savefig('out.png', dpi=100, facecolor='white')
